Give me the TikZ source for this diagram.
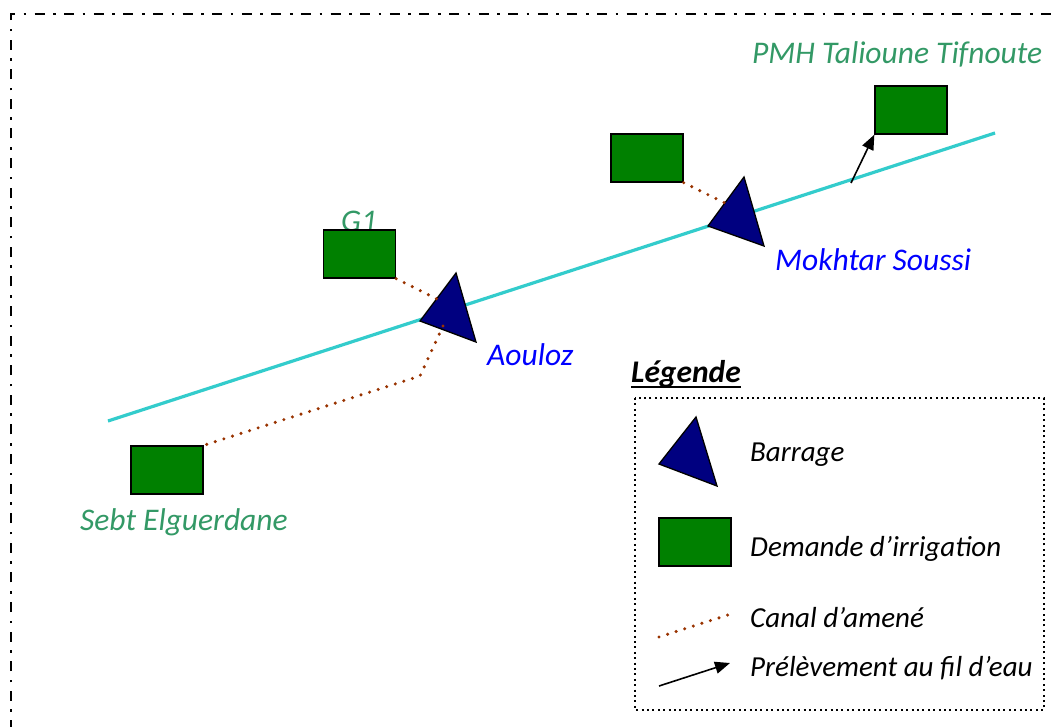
\documentclass[tikz,border=0pt]{standalone}
\usepackage{fontspec}
\setmainfont{Carlito}
\usetikzlibrary{arrows.meta}
\definecolor{riverc}{HTML}{33CCCC}
\definecolor{canalc}{HTML}{993300}
\definecolor{damc}{HTML}{000080}
\definecolor{demc}{HTML}{008000}
\definecolor{greentxt}{HTML}{339966}
\definecolor{bluetxt}{HTML}{0000FF}
\tikzset{
  demand/.style={draw=black, line width=1.3pt, fill=demc, minimum width=72pt, minimum height=48pt, inner sep=0pt},
  dam/.style={draw=black, line width=1.3pt, fill=damc, line join=miter},
  river/.style={draw=riverc, line width=3.2pt},
  canal/.style={draw=canalc, line width=3.4pt, line cap=round, dash pattern=on 0pt off 9pt},
  withdraw/.style={draw=black, line width=1.6pt, -{Triangle[length=15pt,width=12pt]}},
  lbl/.style={font=\fontsize{31.5}{36}\selectfont\itshape, inner sep=0pt, anchor=base west},
  glbl/.style={lbl, text=greentxt},
  blbl/.style={lbl, text=bluetxt},
  klbl/.style={lbl, font=\fontsize{29}{34}\selectfont\itshape, text=black},
}
\begin{document}
\begin{tikzpicture}[x=1pt,y=-1pt]
\useasboundingbox (0,0) rectangle (1058,726);
\clip (0,0) rectangle (1058,726);
\fill[white] (0,0) rectangle (1058,726);
% outer frame
\coordinate (fa) at (1090,14);
\coordinate (fb) at (11,14);
\coordinate (fc) at (11,760);
\draw[line width=2.6pt, dash pattern=on 10pt off 8.5pt on 2.6pt off 8.5pt] (fc) -- (fb) -- (fa);
% river
\coordinate (r0) at (108,421);
\coordinate (r1) at (995,133);
\draw[river] (r0) -- (r1);
% labels under rects
\node[glbl] (g1t) at (341,231) {G1};
% dams
\coordinate (a1) at (420,321);
\coordinate (a2) at (456,273);
\coordinate (a3) at (476,342);
\filldraw[dam] (a1) -- (a2) -- (a3) -- cycle;
\coordinate (m1) at (708,226);
\coordinate (m2) at (744,177);
\coordinate (m3) at (764,246);
\filldraw[dam] (m1) -- (m2) -- (m3) -- cycle;
% demands
\node[demand] (g1) at (359.5,254) {};
\node[demand] (dm) at (647,158) {};
\node[demand] (pmh) at (911,110) {};
\node[demand] (sebt) at (167,470) {};
% canals
\coordinate (ca1) at (443,302);
\draw[canal] (g1.south east) -- (ca1);
\coordinate (ca2) at (443,326);
\coordinate (ca3) at (420,376);
\draw[canal] (ca2) -- (ca3) -- (sebt.north east);
\coordinate (cm1) at (731,206);
\draw[canal] (dm.south east) -- (cm1);
% withdrawal
\coordinate (w0) at (851,183);
\draw[withdraw] (w0) -- (pmh.south west);
% labels
\node[glbl] (pmht) at (752,63) {PMH Talioune Tifnoute};
\node[blbl] (mst) at (775,270) {Mokhtar Soussi};
\node[blbl] (aot) at (487,365) {Aouloz};
\node[glbl] (sebtt) at (80,530) {Sebt Elguerdane};
% legend
\node[lbl, text=black, font=\fontsize{31.5}{36}\selectfont\itshape\bfseries] (lt) at (631,382) {Légende};
\draw[line width=2pt] ([yshift=-5pt]lt.base west) -- ([yshift=-5pt]lt.base east);
\coordinate (lb1) at (635,398);
\coordinate (lb2) at (1044,710);
\draw[line width=2pt, dash pattern=on 2pt off 3.4pt] (lb1) rectangle (lb2);
\coordinate (l1) at (659,464);
\coordinate (l2) at (696,417);
\coordinate (l3) at (717,486);
\filldraw[dam] (l1) -- (l2) -- (l3) -- cycle;
\node[demand] (ld) at (695,542) {};
\coordinate (lc0) at (659,637);
\coordinate (lc1) at (731,614);
\draw[canal] (lc0) -- (lc1);
\coordinate (lw0) at (659,686);
\coordinate (lw1) at (730,663);
\draw[withdraw] (lw0) -- (lw1);
\node[klbl] (lbt) at (750,461) {Barrage};
\node[klbl] (ldt) at (750,556) {Demande d’irrigation};
\node[klbl] (lct) at (750,627) {Canal d’amené};
\node[klbl] (lwt) at (750,676) {Prélèvement au fil d’eau};
\end{tikzpicture}
\end{document}
